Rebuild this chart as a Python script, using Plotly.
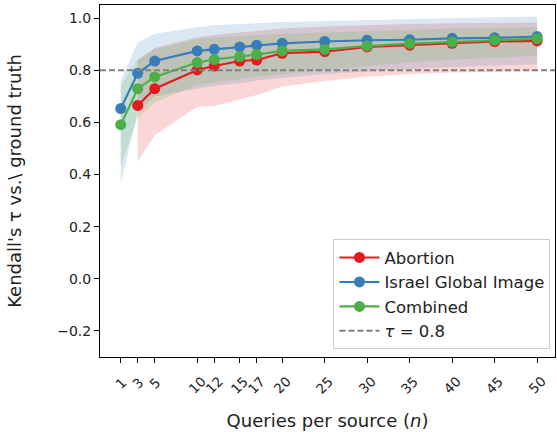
import plotly.graph_objects as go

n_vals = [1, 3, 5, 10, 12, 15, 17, 20, 25, 30, 35, 40, 45, 50]

abortion_mean = [None, 0.665, 0.729, 0.801, 0.816, 0.835, 0.839, 0.865, 0.871, 0.889, 0.896, 0.903, 0.910, 0.912]
abortion_low = [None, 0.451, 0.550, 0.660, 0.663, 0.688, 0.705, 0.737, 0.759, 0.775, 0.785, 0.791, 0.795, 0.797]
abortion_high = [None, 0.840, 0.885, 0.925, 0.935, 0.945, 0.950, 0.960, 0.968, 0.973, 0.977, 0.980, 0.982, 0.983]

israel_mean = [0.653, 0.788, 0.835, 0.874, 0.880, 0.889, 0.896, 0.903, 0.910, 0.915, 0.917, 0.922, 0.924, 0.929]
israel_low = [0.362, 0.640, 0.700, 0.730, 0.740, 0.750, 0.760, 0.770, 0.785, 0.795, 0.805, 0.812, 0.818, 0.823]
israel_high = [0.760, 0.906, 0.940, 0.965, 0.972, 0.978, 0.980, 0.985, 0.989, 0.993, 0.996, 1.000, 1.003, 1.006]

combined_mean = [0.591, 0.729, 0.774, 0.829, 0.841, 0.852, 0.860, 0.874, 0.880, 0.893, 0.902, 0.908, 0.915, 0.921]
combined_low = [0.432, 0.618, 0.676, 0.745, 0.752, 0.765, 0.775, 0.785, 0.800, 0.815, 0.830, 0.840, 0.848, 0.855]
combined_high = [0.740, 0.840, 0.880, 0.920, 0.925, 0.930, 0.935, 0.940, 0.945, 0.950, 0.955, 0.960, 0.962, 0.965]

threshold = 0.8
y_ticks = [-0.2, 0.0, 0.2, 0.4, 0.6, 0.8, 1.0]
x_tick_labels = [str(v) for v in n_vals]

series = [
    ("Abortion", abortion_mean, abortion_low, abortion_high, "#e41a1c", "rgba(228,26,28,0.18)"),
    ("Israel Global Image", israel_mean, israel_low, israel_high, "#377eb8", "rgba(55,126,184,0.18)"),
    ("Combined", combined_mean, combined_low, combined_high, "#4daf4a", "rgba(77,175,74,0.18)"),
]

font = "DejaVu Sans"
fig = go.Figure()


def valid(xs, ys):
    pts = [(x, y) for x, y in zip(xs, ys) if y is not None]
    return [p[0] for p in pts], [p[1] for p in pts]


for name, mean, low, high, col, fcol in series:
    xl, yl = valid(n_vals, low)
    xh, yh = valid(n_vals, high)
    fig.add_trace(go.Scatter(x=xl, y=yl, mode="lines", line=dict(width=0, color=fcol),
                             showlegend=False, hoverinfo="skip", legendgroup=name))
    fig.add_trace(go.Scatter(x=xh, y=yh, mode="lines", line=dict(width=0, color=fcol),
                             fill="tonexty", fillcolor=fcol, showlegend=False, hoverinfo="skip",
                             legendgroup=name))

for name, mean, low, high, col, fcol in series:
    xm, ym = valid(n_vals, mean)
    fig.add_trace(go.Scatter(x=xm, y=ym, mode="lines+markers", name=name, legendgroup=name,
                             line=dict(color=col, width=2.1),
                             marker=dict(color=col, size=11)))

x_range = [-1.44, 52.1]
fig.add_trace(go.Scatter(x=x_range, y=[threshold, threshold], mode="lines",
                         name="<i>τ</i> = 0.8", legendgroup="tau",
                         line=dict(color="#808080", width=2, dash="6px,3px")))

for v, lab in zip(n_vals, x_tick_labels):
    fig.add_annotation(x=v, xref="x", y=0, yref="paper", yshift=-14, text=lab,
                       textangle=-45, xanchor="center", yanchor="top", showarrow=False,
                       font=dict(family=font, size=13.5, color="#222"))

fig.update_layout(
    width=557, height=432,
    margin=dict(l=100, r=2, t=5, b=75),
    paper_bgcolor="white", plot_bgcolor="white",
    font=dict(family=font, size=14, color="#222"),
    showlegend=True,
    legend=dict(x=0.99, y=0.022, xanchor="right", yanchor="bottom", traceorder="grouped",
                bgcolor="rgba(255,255,255,0.85)", bordercolor="#cccccc", borderwidth=1,
                font=dict(size=16.5), itemwidth=40, tracegroupgap=0),
)
fig.update_xaxes(range=x_range, tickmode="array", tickvals=n_vals, showticklabels=False,
                 ticks="outside", ticklen=5, tickcolor="black", tickwidth=1, automargin=False,
                 showline=True, linecolor="black", linewidth=1, mirror=True,
                 showgrid=False, zeroline=False,
                 title=dict(text="Queries per source (<i>n</i>)", font=dict(size=18), standoff=52))
fig.update_yaxes(range=[-0.3, 1.05], tickmode="array", tickvals=y_ticks, tickformat=".1f",
                 ticks="outside", ticklen=5, tickcolor="black", tickwidth=1, automargin=False,
                 showline=True, linecolor="black", linewidth=1, mirror=True,
                 showgrid=False, zeroline=False, tickfont=dict(size=14),
                 title=dict(text="Kendall's τ vs.\\ ground truth", font=dict(size=18), standoff=30))

fig.write_html("out.html", post_script="document.body.style.margin='0';",
               config={"displayModeBar": False})
